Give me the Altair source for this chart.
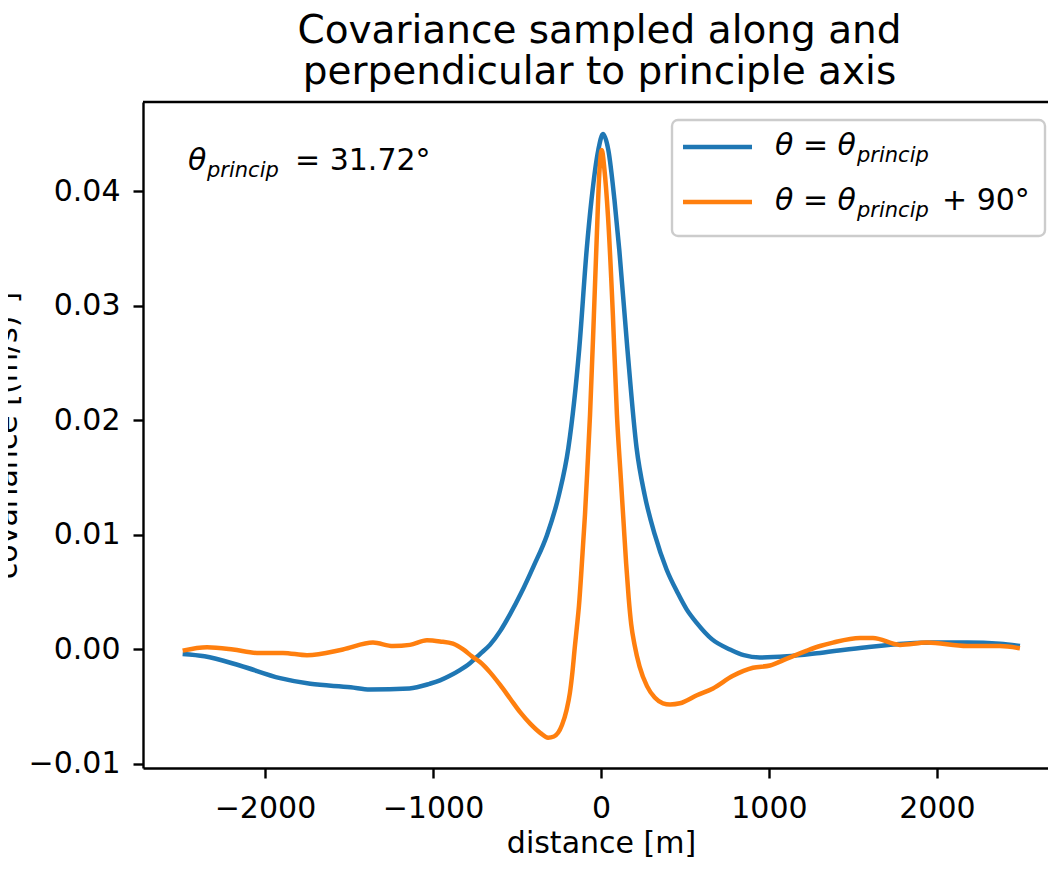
import altair as alt
import pandas as pd

# ---------------- data ----------------
series_names = ["along", "perpendicular"]
series_colors = ["#1f77b4", "#ff7f0e"]

dist_along = [-2490, -2360, -2150, -1910, -1730, -1490, -1375, -1140, -1020, -958,
              -900, -840, -780, -720, -661, -600, -540, -476, -400, -321, -250,
              -194, -129, -85, -56, -16, 12, 44, 80, 109, 157, 212, 260, 321, 390,
              458, 510, 571, 660, 768, 850, 946, 1107, 1304, 1583, 1976, 2179,
              2375, 2494]
cov_along = [-0.0004, -0.0006, -0.0014, -0.0025, -0.0030, -0.0033, -0.0035, -0.0034,
             -0.0030, -0.0027, -0.0023, -0.0018, -0.0012, -0.0004, 0.0004, 0.0016,
             0.0031, 0.0049, 0.0073, 0.0100, 0.0135, 0.0176, 0.0263, 0.0349,
             0.0393, 0.0436, 0.0450, 0.0436, 0.0393, 0.0349, 0.0263, 0.0176,
             0.0135, 0.0100, 0.0070, 0.0049, 0.0035, 0.0023, 0.0009, 0.0000,
             -0.0005, -0.0007, -0.0006, -0.0003, 0.0002, 0.0006, 0.0006, 0.0005,
             0.0003]

dist_perp = [-2490, -2345, -2190, -2048, -1893, -1750, -1536, -1357, -1238, -1137,
             -1036, -958, -881, -820, -768, -720, -660, -600, -540, -480, -420,
             -360, -315, -280, -232, -205, -185, -170, -155, -143, -131, -118,
             -105, -95, -80, -65, -42, -24, -10, 5, 20, 42, 71, 95, 118, 135, 150,
             165, 180, 200, 230, 274, 320, 369, 411, 470, 571, 667, 786, 905,
             1006, 1107, 1226, 1304, 1381, 1542, 1619, 1780, 1940, 2179, 2375,
             2494]
cov_perp = [-0.0001, 0.0002, 0.0000, -0.0003, -0.0003, -0.0005, 0.0000, 0.0006,
            0.0003, 0.0004, 0.0008, 0.0007, 0.0005, 0.0000, -0.0006, -0.0011,
            -0.0020, -0.0031, -0.0043, -0.0055, -0.0065, -0.0073, -0.0077,
            -0.0076, -0.0066, -0.0053, -0.0038, -0.0020, 0.0003, 0.0020, 0.0038,
            0.0065, 0.0095, 0.0118, 0.0160, 0.0205, 0.0292, 0.0364, 0.0415,
            0.0436, 0.0420, 0.0378, 0.0292, 0.0205, 0.0150, 0.0110, 0.0075,
            0.0045, 0.0022, 0.0004, -0.0015, -0.0032, -0.0042, -0.0047, -0.0048,
            -0.0047, -0.0040, -0.0034, -0.0023, -0.0016, -0.0014, -0.0008,
            -0.0001, 0.0003, 0.0006, 0.0010, 0.0010, 0.0004, 0.0006, 0.0003,
            0.0003, 0.0001]

title_lines = ["Covariance sampled along and", "perpendicular to principle axis"]
x_title = "distance [m]"
y_title = "covariance [(m/s)²]"
x_ticks = [-2000, -1000, 0, 1000, 2000]
y_ticks = [-0.01, 0.0, 0.01, 0.02, 0.03, 0.04]
x_domain = [-2726, 2661]
y_domain = [-0.01035, 0.0478]

legend_main = "θ = θ"
legend_sub = "princip"
legend_tail = "+ 90°"
annot_main = "θ"
annot_sub = "princip"
annot_tail = "= 31.72°"

# ---------------- build ----------------
df = pd.concat([
    pd.DataFrame({"distance": dist_along, "cov": cov_along, "series": series_names[0]}),
    pd.DataFrame({"distance": dist_perp, "cov": cov_perp, "series": series_names[1]}),
])

W, H = 905, 666
FONT = "DejaVu Sans"

lines = alt.Chart(df).mark_line(strokeWidth=4.5, interpolate="monotone", clip=True).encode(
    x=alt.X("distance:Q",
            scale=alt.Scale(domain=x_domain, nice=False, zero=False),
            axis=alt.Axis(values=x_ticks, format="d", title=x_title,
                          titleX=458, titleY=84, titleBaseline="alphabetic",
                          labelPadding=15)),
    y=alt.Y("cov:Q",
            scale=alt.Scale(domain=y_domain, nice=False, zero=False),
            axis=alt.Axis(values=y_ticks, format=".2f", title=y_title,
                          titleAngle=-90, titleX=-127, titleY=H / 2,
                          titleAlign="center", titleBaseline="alphabetic",
                          labelPadding=13)),
    color=alt.Color("series:N", scale=alt.Scale(domain=series_names, range=series_colors),
                    legend=None),
    detail="series:N",
)

one = pd.DataFrame({"k": [0]})
base = alt.Chart(one)

top_spine = base.mark_rule(color="black", strokeWidth=2.4).encode(
    x=alt.value(0), x2=alt.value(W), y=alt.value(0))

legend_box = base.mark_rect(fill="white", fillOpacity=0.8, stroke="#cccccc",
                            strokeWidth=2.4, cornerRadius=6).encode(
    x=alt.value(529), x2=alt.value(902), y=alt.value(18), y2=alt.value(134))

leg_line1 = base.mark_rule(color=series_colors[0], strokeWidth=4.5).encode(
    x=alt.value(540), x2=alt.value(609), y=alt.value(45))
leg_line2 = base.mark_rule(color=series_colors[1], strokeWidth=4.5).encode(
    x=alt.value(540), x2=alt.value(609), y=alt.value(100))

def txt(s, x, y, size=30, italic=False):
    kw = dict(align="left", baseline="alphabetic", font=FONT, fontSize=size,
              color="black", text=s)
    if italic:
        kw["fontStyle"] = "italic"
    return base.mark_text(**kw).encode(x=alt.value(x), y=alt.value(y))

texts = [
    txt(legend_main, 632, 53, italic=True),
    txt(legend_sub, 714, 60, size=21, italic=True),
    txt(legend_main, 632, 108, italic=True),
    txt(legend_sub, 714, 115, size=21, italic=True),
    txt(legend_tail, 799, 108),
    txt(annot_main, 45, 68, italic=True),
    txt(annot_sub, 64, 75, size=21, italic=True),
    txt(annot_tail, 152, 68),
]

chart = alt.layer(lines, top_spine, legend_box, leg_line1, leg_line2, *texts).properties(
    width=W, height=H,
    title=alt.TitleParams(text=title_lines, font=FONT, fontSize=39, fontWeight="normal",
                          anchor="middle", frame="group", offset=9, lineHeight=41,
                          color="black", dx=4),
    autosize=alt.AutoSizeParams(type="none"),
    padding={"left": 135, "top": 94, "right": 0, "bottom": 90},
).configure_view(stroke=None).configure_axis(
    grid=False, domainColor="black", domainWidth=2.4, tickColor="black", tickWidth=2.4,
    tickSize=10, labelFont=FONT, labelFontSize=30, labelColor="black",
    titleFont=FONT, titleFontSize=30, titleFontWeight="normal", titleColor="black",
)

chart.save("out.html", embed_options={"renderer": "svg", "actions": False})
